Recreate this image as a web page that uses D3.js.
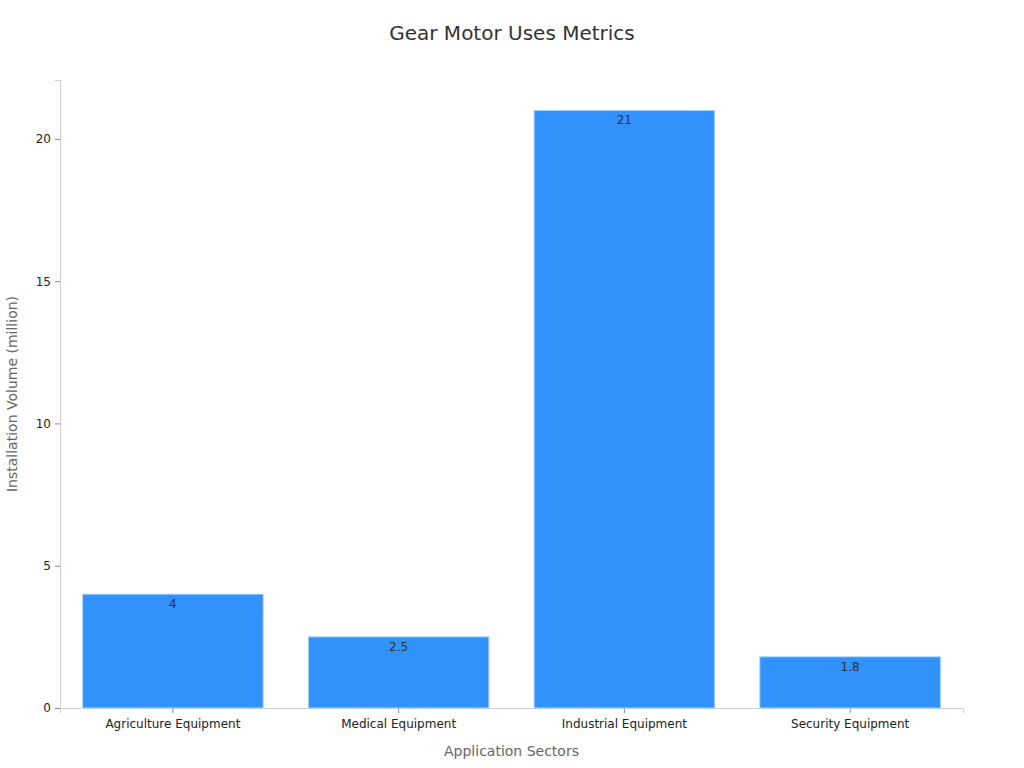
<!DOCTYPE html>
<html><head><meta charset="utf-8">
<script src="https://cdn.jsdelivr.net/npm/d3@7/dist/d3.min.js"></script>
<style>body{margin:0;background:#fff;}svg{display:block;font-family:"DejaVu Sans",sans-serif;}</style>
</head><body>
<svg id="c" width="1024" height="768"></svg>
<script>
const categories = ["Agriculture Equipment","Medical Equipment","Industrial Equipment","Security Equipment"];
const values = [4, 2.5, 21, 1.8];
const yTicks = [0, 5, 10, 15, 20];
const title = "Gear Motor Uses Metrics";
const xTitle = "Application Sectors";
const yTitle = "Installation Volume (million)";

const svg = d3.select("#c");
const m = {l:60, r:61, t:80, b:60};
const W = 1024, H = 768;
const x = d3.scaleBand().domain(categories).range([m.l, W-m.r]).paddingInner(0.2).paddingOuter(0.1);
const y = d3.scaleLinear().domain([0, 22.07]).range([H-m.b, m.t]);

svg.append("text").attr("x", 512).attr("y", 40).attr("text-anchor","middle")
  .attr("font-size", 20).attr("fill","#333").text(title);

const gx = svg.append("g").attr("transform", `translate(0,${H-m.b})`)
  .call(d3.axisBottom(x).tickSizeOuter(0).tickSize(5).tickPadding(6));
gx.select(".domain").attr("stroke","#ccc");
gx.selectAll(".tick line").attr("stroke","#888");
gx.selectAll(".tick text").attr("font-size",12).attr("fill","#222").attr("font-family","DejaVu Sans, sans-serif");

const gy = svg.append("g").attr("transform", `translate(${m.l},0)`)
  .call(d3.axisLeft(y).tickValues(yTicks).tickSizeOuter(0).tickSize(5).tickPadding(4));
gy.select(".domain").attr("stroke","#ccc");
gy.selectAll(".tick line").attr("stroke","#888");
gy.selectAll(".tick text").attr("font-size",12).attr("fill","#222").attr("font-family","DejaVu Sans, sans-serif");

svg.append("g").selectAll("rect").data(values).join("rect")
  .attr("x",(d,i)=>x(categories[i])).attr("y",d=>y(d))
  .attr("width",x.bandwidth()).attr("height",d=>y(0)-y(d))
  .attr("fill","#3092fa").attr("stroke","#a8d4ff").attr("stroke-width",1);

svg.append("g").selectAll("text").data(values).join("text")
  .attr("x",(d,i)=>x(categories[i])+x.bandwidth()/2).attr("y",d=>y(d)+14)
  .attr("text-anchor","middle").attr("font-size",12).attr("fill","#333").text(d=>d);

svg.append("text").attr("x", (m.l+W-m.r)/2).attr("y", 756).attr("text-anchor","middle")
  .attr("font-size",14).attr("fill","#666").text(xTitle);
svg.append("text").attr("transform",`translate(17,${(m.t+H-m.b)/2}) rotate(-90)`).attr("text-anchor","middle")
  .attr("font-size",14).attr("fill","#666").text(yTitle);
</script>
</body></html>
